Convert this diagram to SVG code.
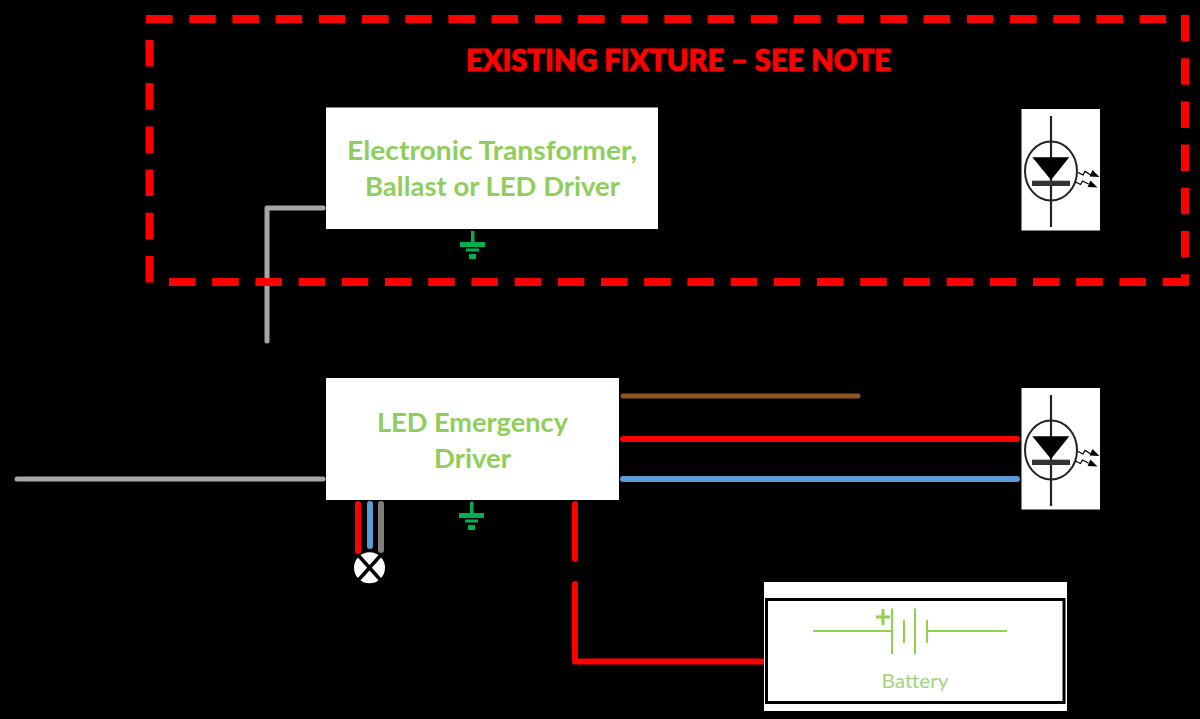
<svg xmlns="http://www.w3.org/2000/svg" xmlns:xlink="http://www.w3.org/1999/xlink" width="1200" height="719" viewBox="0 0 1200 719">
<style>
.lbl{font-family:"Lato","Open Sans","Liberation Sans",sans-serif;font-weight:700;fill:#8fce5a;font-size:27px;text-anchor:middle}
.box{fill:#fff}
.dash{fill:none;stroke:#f00;stroke-width:8;stroke-dasharray:26.5 16.7}
.wire{fill:none;stroke-linecap:round;stroke-linejoin:round}
.w5{stroke-width:5}
.w6{stroke-width:6}
.bat{stroke:#92d050;stroke-width:2;fill:none}
.plus{stroke:#92d050;stroke-width:3;fill:none}
.gnd{fill:#00b050}
</style>
<defs>
<g id="led-sym">
<rect class="box" x="0" y="0" width="78.5" height="121.5"/>
<path d="M29.5 7V118" stroke="#222" stroke-width="2.2" fill="none"/>
<ellipse cx="29.5" cy="62" rx="26" ry="29.5" fill="none" stroke="#222" stroke-width="2"/>
<path d="M10.8 48.300H47.800L29.500 71Z" fill="#000"/>
<rect x="10.500" y="71.700" width="38" height="5.300" fill="#333"/>
<path d="M56.500 63.500l5 2.500 2-3.500 6 3.500M54 73l5 2.500 2-3.500 6 3" fill="none" stroke="#000" stroke-width="1.300"/>
<path d="M78 68l-10-.5 3-6.500ZM76 78.500l-10-.5 3-6.500Z" fill="#000"/>
</g>
<g id="gnd-sym">
<rect class="gnd" x="-1.500" y="0" width="3.500" height="12"/>
<rect class="gnd" x="-12.500" y="11" width="25" height="5"/>
<rect class="gnd" x="-6.500" y="17.500" width="13" height="3"/>
<rect class="gnd" x="-3.500" y="23" width="7" height="5"/>
</g>
</defs>
<rect width="1200" height="719" fill="#000"/>
<g id="connectors">
<path class="wire w5" stroke="#a6a6a6" d="M323 208H267V341"/>
<path class="wire w5" stroke="#a6a6a6" d="M17 479H323"/>
<path class="wire w5" stroke="#8f5522" d="M623 396H858"/>
<path class="wire w6" stroke="#f00" d="M623 439H1017"/>
<path class="wire w6" stroke="#5b9bd5" d="M623 479H1017"/>
<path class="wire w6" stroke="#f00" d="M575 504V559"/>
<path class="wire w6" stroke="#f00" d="M575 584V661.500H768"/>
<path class="wire w6" stroke="#f00" d="M358 504V551"/>
<path class="wire w6" stroke="#5b9bd5" d="M370 504V546"/>
<path class="wire w6" stroke="#7f7f7f" d="M381 504V550"/>
</g>
<g id="fixture-boundary">
<path class="dash" d="M146 19H1168"/>
<path class="dash" d="M149.500 40V287"/>
<path class="dash" d="M169 282H1189"/>
<path class="dash" d="M1185 15V286"/>
<text x="678.500" y="71" font-family="Lato,'Open Sans','Liberation Sans',sans-serif" font-weight="900" font-size="31" fill="#f00" stroke="#f00" stroke-width="1" text-anchor="middle" textLength="425" lengthAdjust="spacingAndGlyphs">EXISTING FIXTURE – SEE NOTE</text>
</g>
<g id="electronic-transformer">
<rect class="box" x="326" y="107.500" width="332" height="121.500"/>
<text class="lbl" x="492" y="160" textLength="290" lengthAdjust="spacingAndGlyphs">Electronic Transformer,</text>
<text class="lbl" x="492.500" y="196" textLength="255" lengthAdjust="spacingAndGlyphs">Ballast or LED Driver</text>
<use href="#gnd-sym" xlink:href="#gnd-sym" x="472.500" y="231"/>
</g>
<g id="led-existing"><use href="#led-sym" xlink:href="#led-sym" x="1021.500" y="109"/></g>
<g id="led-emergency-driver">
<rect class="box" x="326" y="378" width="293" height="122"/>
<text class="lbl" x="472.500" y="432" textLength="191" lengthAdjust="spacingAndGlyphs">LED Emergency</text>
<text class="lbl" x="472.500" y="468" textLength="77" lengthAdjust="spacingAndGlyphs">Driver</text>
<use href="#gnd-sym" xlink:href="#gnd-sym" x="471.500" y="502"/>
</g>
<g id="led-emergency"><use href="#led-sym" xlink:href="#led-sym" x="1021.500" y="388"/></g>
<g id="lamp">
<circle cx="369.500" cy="567.700" r="15.500" fill="#fff"/>
<path d="M358.500 555.500L380.500 580M380.500 555.500L358.500 580" stroke="#000" stroke-width="3.500" fill="none"/>
</g>
<g id="battery">
<rect class="box" x="764" y="582" width="303" height="129"/>
<rect x="766.500" y="599.500" width="297.500" height="103" fill="#fff" stroke="#000" stroke-width="3"/>
<path class="bat" d="M813 631H892M892 608.500V654M904 620V643M915 608.500V654M927 620V643M927 631H1007"/>
<path class="plus" d="M876 617H890M883 609V625"/>
<text x="915" y="688" font-family="Lato,'Open Sans','Liberation Sans',sans-serif" font-size="19" fill="#a3d27e" text-anchor="middle" textLength="67" lengthAdjust="spacingAndGlyphs">Battery</text>
</g>
</svg>
